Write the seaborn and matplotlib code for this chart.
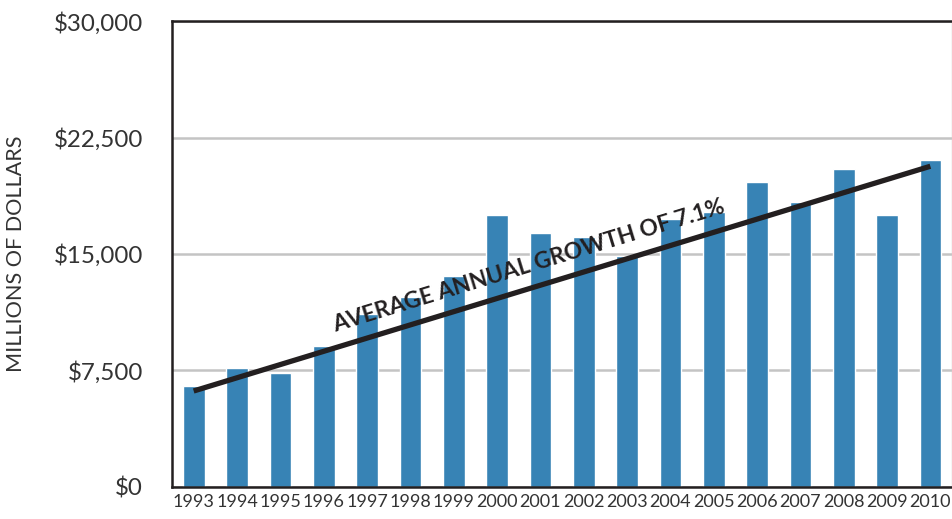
import pandas as pd
import matplotlib.pyplot as plt
import seaborn as sns

years = [str(y) for y in range(1993, 2011)]
spending = [6500, 7660, 7340, 9080, 11140, 12230, 13580, 17510, 16350,
            16080, 14870, 17250, 17700, 19640, 18350, 20470, 17510, 21050]
trend_x = [0, 17]
trend_y = [6180, 20650]
yticks = [0, 7500, 15000, 22500, 30000]
ytick_labels = ['$0', '$7,500', '$15,000', '$22,500', '$30,000']

BAR_BLUE = '#3783b5'
INK = '#231f20'


def setup_style():
    sns.set_theme(style="white")
    plt.rcParams['font.family'] = ['Lato', 'DejaVu Sans']
    plt.rcParams['text.color'] = '#333333'
    plt.rcParams['xtick.color'] = INK
    plt.rcParams['xtick.labelcolor'] = '#333333'
    plt.rcParams['ytick.labelcolor'] = '#333333'


def main():
    setup_style()
    df = pd.DataFrame({'year': years, 'spending': spending})

    fig = plt.figure(figsize=(9.53, 5.19), dpi=100)
    ax = fig.add_axes([0.1805, 0.0617, 0.8185, 0.8978])

    sns.barplot(data=df, x='year', y='spending', color=BAR_BLUE,
                width=0.5, saturation=1, ax=ax)

    # trend line + label
    ax.plot(trend_x, trend_y, color=INK, lw=3.8, solid_capstyle='butt', zorder=4)
    ax.text(7.73, 14230, 'AVERAGE ANNUAL GROWTH OF 7.1%', rotation=17,
            rotation_mode='anchor', ha='center', va='center',
            fontsize=16.4, fontweight='bold', color=INK, zorder=5)

    ax.set_ylim(0, 30000)
    ax.set_xlim(-0.5, 17.5)
    ax.set_yticks(yticks)
    ax.set_yticklabels(ytick_labels)
    ax.tick_params(axis='y', length=0, pad=21, labelsize=17.4)

    # year ticks sit between the bars
    ax.set_xticks(range(len(years)))
    ax.set_xticklabels(years)
    ax.set_xticks([i + 0.5 for i in range(-1, len(years))], minor=True)
    ax.tick_params(axis='x', which='major', length=0, pad=5, labelsize=13)
    ax.tick_params(axis='x', which='minor', direction='inout', length=9,
                   width=1.6, color=INK)

    ax.yaxis.grid(True, color='#c4c4c4', lw=1.8)
    ax.xaxis.grid(False)
    ax.set_axisbelow(True)

    for side in ['left', 'top', 'bottom']:
        ax.spines[side].set_color(INK)
        ax.spines[side].set_linewidth(1.8)
    ax.spines['right'].set_color('#d0d0d0')
    ax.spines['right'].set_linewidth(1.0)

    ax.set_xlabel('')
    ax.set_ylabel('MILLIONS OF DOLLARS', fontsize=15.6, labelpad=20, color='#333333')

    fig.savefig('out.png', dpi=100)
    plt.close(fig)


if __name__ == '__main__':
    main()
